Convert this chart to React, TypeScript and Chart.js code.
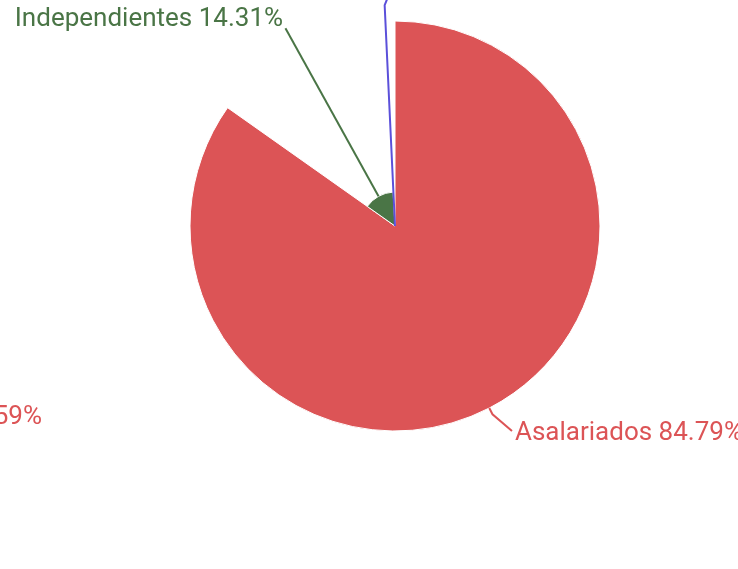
import React, { useEffect, useRef } from 'react';
import { Chart, registerables } from 'chart.js';

Chart.register(...registerables);

// ---- data ----
const categories: string[] = ['Asalariados', 'Independientes', 'Patronos', 'No remunerados'];
const shares: number[] = [84.79, 14.31, 0.31, 0.59];
const sliceColors: string[] = ['#dc5456', '#4a7546', '#5b50da', '#dc5456'];

// ---- label layout (annotation placement, not data) ----
type LabelCfg = {
  line: boolean;
  len: number;
  bend: [number, number];
  text: [number, number];
  align: CanvasTextAlign;
  fromCenter?: [number, number];
};
const labelLayout: LabelCfg[] = [
  { line: true, len: 7, bend: [19.5, 16.8], text: [3, 2], align: 'left' },
  { line: true, len: 192, bend: [0, 0], text: [-2.4, -8.5], align: 'right' },
  { line: true, len: 221, bend: [4, -10], text: [3, -12], align: 'left' },
  { line: false, len: 0, bend: [0, 0], text: [0, 0], align: 'right', fromCenter: [-353, 191] },
];

const labelPlugin = {
  id: 'pieLabels',
  afterDraw(chart: any) {
    const ctx: CanvasRenderingContext2D = chart.ctx;
    const meta = chart.getDatasetMeta(0);
    ctx.save();
    ctx.font = '26px Roboto';
    ctx.textBaseline = 'middle';
    ctx.lineWidth = 2;
    meta.data.forEach((arc: any, i: number) => {
      const { x, y, startAngle, endAngle, outerRadius } = arc.getProps(
        ['x', 'y', 'startAngle', 'endAngle', 'outerRadius'],
        true
      );
      const L = labelLayout[i];
      const color = sliceColors[i];
      const text = `${categories[i]} ${shares[i].toFixed(2)}%`;
      ctx.fillStyle = color;
      ctx.strokeStyle = color;
      ctx.textAlign = L.align;
      if (L.fromCenter) {
        ctx.fillText(text, x + L.fromCenter[0], y + L.fromCenter[1]);
        return;
      }
      const mid = (startAngle + endAngle) / 2;
      const dx = Math.cos(mid);
      const dy = Math.sin(mid);
      const ax = x + dx * outerRadius;
      const ay = y + dy * outerRadius;
      const bx = ax + dx * L.len;
      const by = ay + dy * L.len;
      const cx = bx + L.bend[0];
      const cy = by + L.bend[1];
      if (L.line) {
        ctx.beginPath();
        ctx.moveTo(ax, ay);
        ctx.lineTo(bx, by);
        ctx.lineTo(cx, cy);
        ctx.stroke();
      }
      ctx.fillText(text, cx + L.text[0], cy + L.text[1]);
    });
    ctx.restore();
  },
};

export default function App() {
  const ref = useRef<HTMLCanvasElement | null>(null);

  useEffect(() => {
    if (!ref.current) return;
    const total = shares.reduce((a, b) => a + b, 0);
    const chart = new Chart(ref.current, {
      type: 'polarArea',
      data: {
        labels: categories,
        datasets: [
          {
            data: shares,
            backgroundColor: sliceColors,
            borderColor: '#ffffff',
            borderWidth: 1,
            angle: (c: any) => (shares[c.dataIndex] / total) * 360,
          } as any,
        ],
      },
      options: {
        responsive: false,
        animation: false,
        layout: { padding: { left: 190, right: 138, top: 21, bottom: 137 } },
        plugins: {
          legend: { display: false },
          tooltip: { enabled: false },
          title: { display: false },
        },
        scales: {
          r: {
            display: false,
            min: Math.min(...shares),
            max: Math.max(...shares),
            startAngle: 0,
          },
        },
      },
      plugins: [labelPlugin],
    });
    return () => chart.destroy();
  }, []);

  return (
    <div style={{ position: 'fixed', left: 0, top: 0, width: 738, height: 569, background: '#fff' }}>
      <canvas ref={ref} width={738} height={569} style={{ display: 'block' }} />
    </div>
  );
}
